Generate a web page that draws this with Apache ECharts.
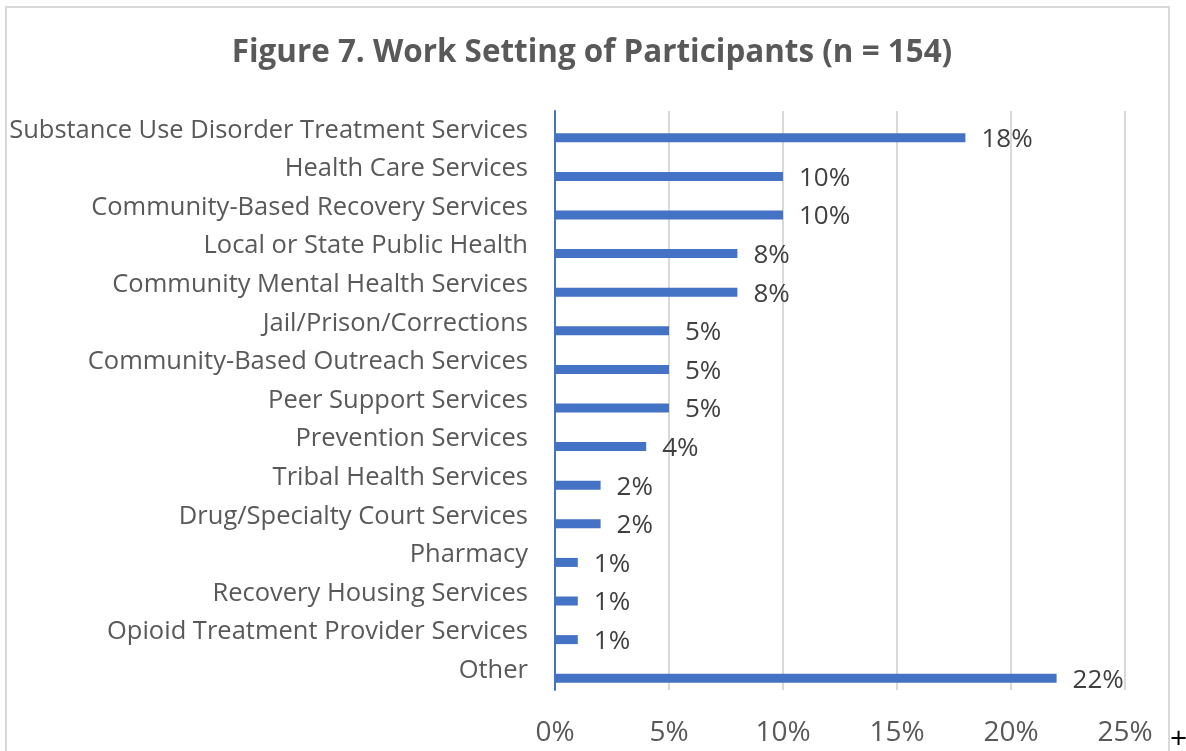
<!DOCTYPE html>
<html>
<head>
<meta charset="utf-8">
<script src="https://cdn.jsdelivr.net/npm/echarts@6/dist/echarts.min.js"></script>
<style>
  html, body { margin: 0; padding: 0; background: #fff; }
  #chart { width: 1186px; height: 751px; }
</style>
</head>
<body>
<div id="chart"></div>
<script>
// Work settings, top to bottom as listed
const categories = [
  'Substance Use Disorder Treatment Services',
  'Health Care Services',
  'Community-Based Recovery Services',
  'Local or State Public Health',
  'Community Mental Health Services',
  'Jail/Prison/Corrections',
  'Community-Based Outreach Services',
  'Peer Support Services',
  'Prevention Services',
  'Tribal Health Services',
  'Drug/Specialty Court Services',
  'Pharmacy',
  'Recovery Housing Services',
  'Opioid Treatment Provider Services',
  'Other'
];
// Share of participants, percent
const shares = [18, 10, 10, 8, 8, 5, 5, 5, 4, 2, 2, 1, 1, 1, 22];
const xTicks = [0, 5, 10, 15, 20, 25];

const FONT = 'Open Sans, Liberation Sans, sans-serif';
const chart = echarts.init(document.getElementById('chart'));

chart.setOption({
  animation: false,
  title: {
    text: 'Figure 7. Work Setting of Participants (n = 154)',
    left: 587, top: 33, textAlign: 'center',
    textStyle: { fontFamily: FONT, fontWeight: 'bold', fontSize: 31.4, color: '#595959' }
  },
  grid: { left: 555, right: 61, top: 111, bottom: 61, containLabel: false },
  xAxis: {
    type: 'value', min: xTicks[0], max: xTicks[xTicks.length - 1], interval: 5,
    axisLine: { show: false }, axisTick: { show: false },
    splitLine: { lineStyle: { color: '#d9d9d9', width: 2 } },
    axisLabel: { formatter: '{value}%', fontFamily: FONT, fontSize: 28, color: '#595959', margin: 29 }
  },
  yAxis: {
    type: 'category', data: categories, inverse: true,
    axisLine: { lineStyle: { color: '#4472C4', width: 2 } },
    axisTick: { show: false },
    axisLabel: { fontFamily: FONT, fontSize: 25.5, color: '#595959', margin: 27, padding: [3, 0, 0, 0] }
  },
  series: [
    { type: 'bar', data: categories.map(() => null), barWidth: 9, barGap: '67%' },
    {
      type: 'bar', data: shares, barWidth: 9, barGap: '67%',
      itemStyle: { color: '#4472C4' },
      label: {
        show: true, position: 'right', distance: 16, offset: [0, 2],
        formatter: p => p.value + '%',
        fontFamily: FONT, fontSize: 26, color: '#404040'
      }
    }
  ],
  graphic: [
    { type: 'rect', shape: { x: 6, y: 7, width: 1163, height: 800 },
      style: { fill: 'none', stroke: '#d9d9d9', lineWidth: 2 }, silent: true },
    { type: 'text', left: 1170, top: 724,
      style: { text: '+', font: '30px ' + FONT, fill: '#000' } }
  ]
});
</script>
</body>
</html>
